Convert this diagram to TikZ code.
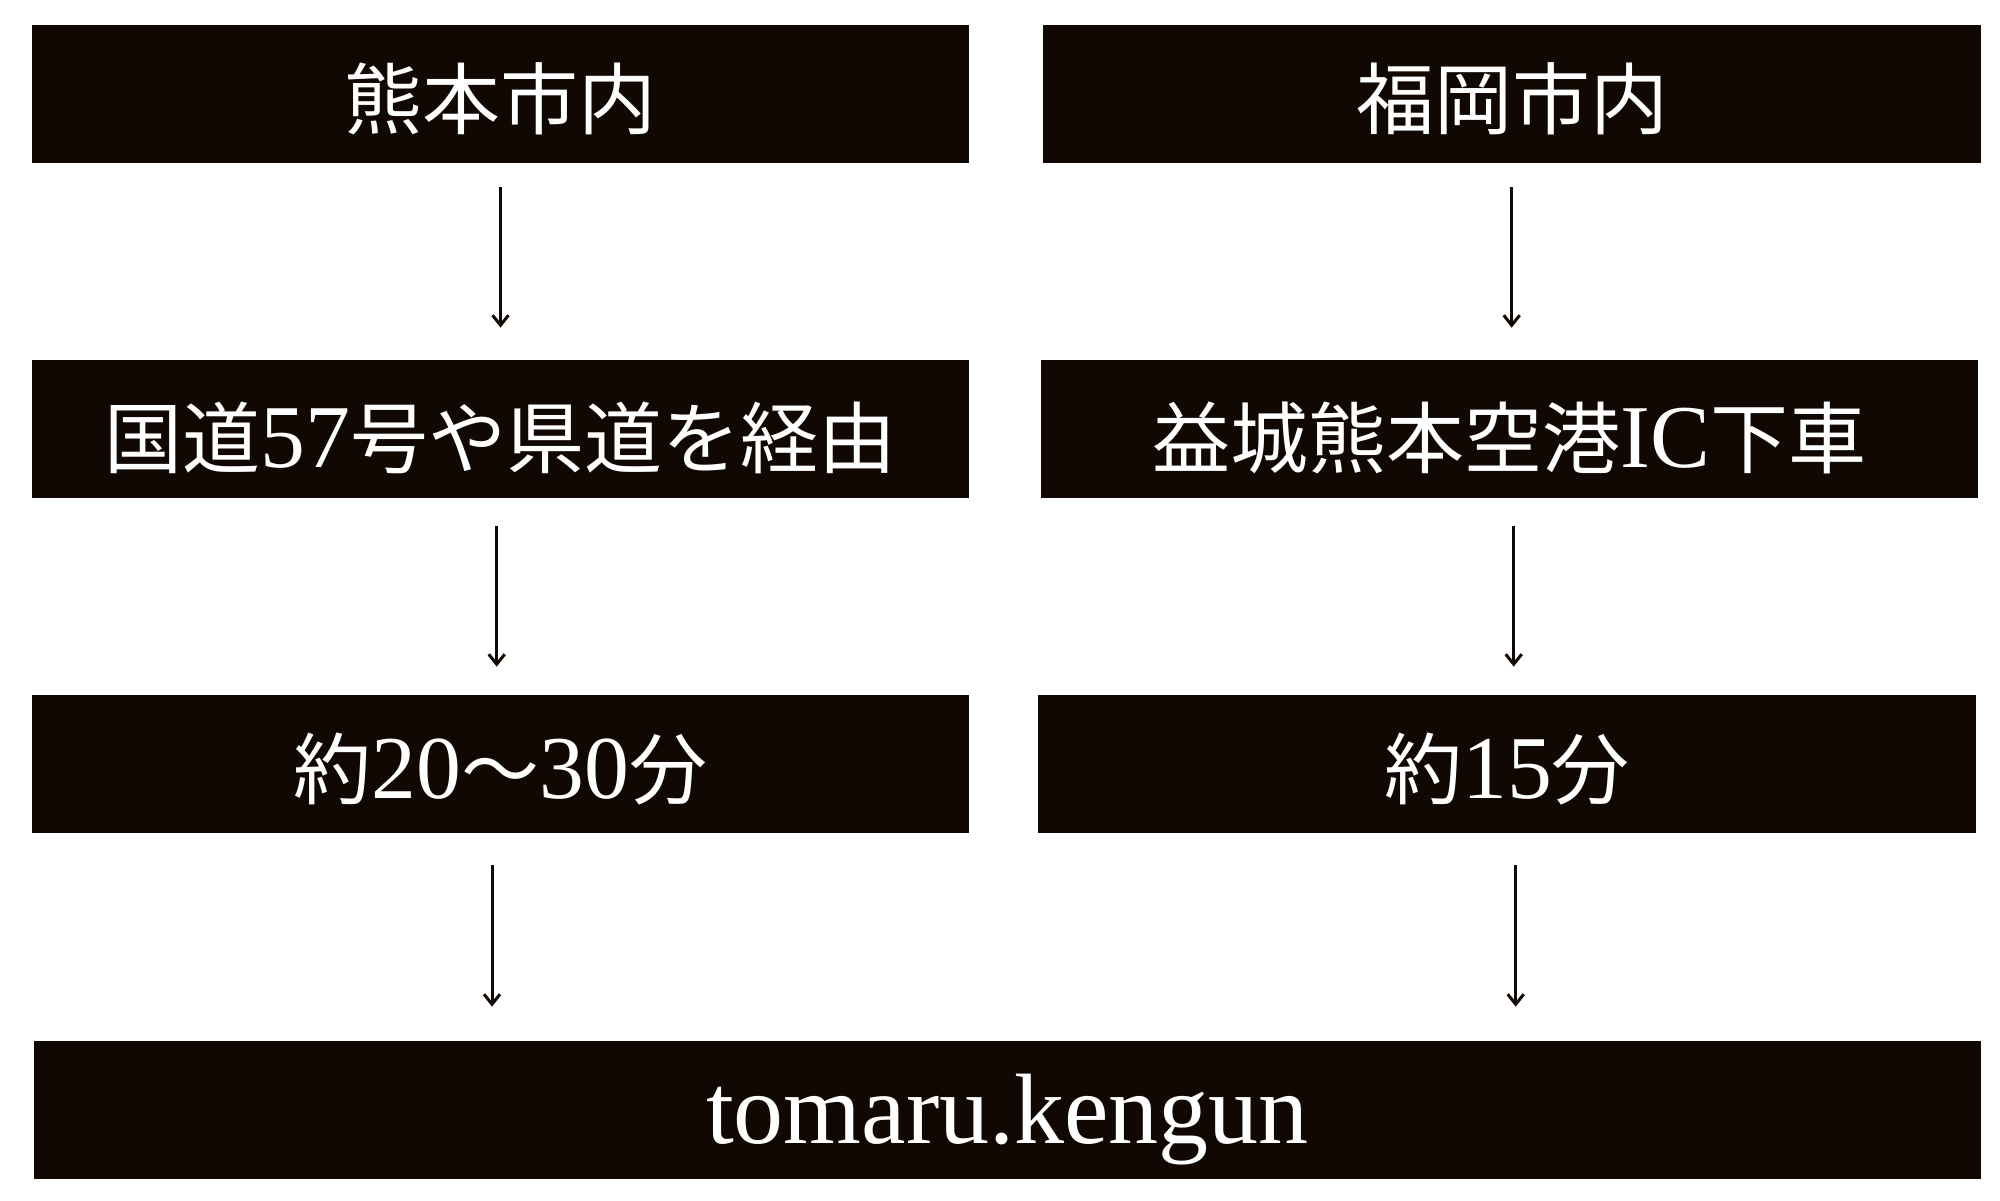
\documentclass[tikz,border=0pt]{standalone}
\usepackage{fontspec}
\setmainfont{Liberation Serif}
\newfontfamily\jp{Noto Sans CJK JP}
\newfontfamily\lat[Scale=1.15]{Liberation Serif}
\usetikzlibrary{arrows.meta}
\definecolor{boxfill}{RGB}{17,8,3}
\begin{document}
\begin{tikzpicture}[x=0.5pt,y=-0.5pt,
  box/.style={fill=boxfill, draw=none, inner sep=0pt, minimum height=69pt,
    text=white, font=\jp\fontsize{39pt}{39pt}\selectfont, text height=34pt, text depth=0pt},
  arr/.style={draw=boxfill, line width=1.5pt, -{Straight Barb[length=5pt,width=8pt]}}]
\fill[white] (0,0) rectangle (2000,1200);
% row 1
\node[box, minimum width=468.5pt] (L1) at (500.5,94) {熊本市内};
\node[box, minimum width=469pt] (R1) at (1512,94) {福岡市内};
% row 2
\node[box, minimum width=468.5pt, text height=38pt] (L2) at (500.5,429) {国道{\lat 57}号や県道を経由};
\node[box, minimum width=468.5pt, text height=38pt] (R2) at (1509.5,429) {益城熊本空港{\lat IC}下車};
% row 3
\node[box, minimum width=468.5pt] (L3) at (500.5,764) {約{\lat 20}〜{\lat 30}分};
\node[box, minimum width=469pt] (R3) at (1507,764) {約{\lat 15}分};
% row 4
\node[box, minimum width=973.5pt, font=\rmfamily\fontsize{50pt}{50pt}\selectfont, text height=33pt] (B) at (1007.5,1110) {tomaru.kengun};
% arrows
\draw[arr] ([yshift=-11.85pt]L1.south) -- ([yshift=16pt]L2.north);
\draw[arr] ([xshift=-0.15pt,yshift=-11.85pt]R1.south) -- ([xshift=1.1pt,yshift=16pt]R2.north);
\draw[arr] ([xshift=-1.9pt,yshift=-14pt]L2.south) -- ([xshift=-1.9pt,yshift=14pt]L3.north);
\draw[arr] ([xshift=2.1pt,yshift=-14pt]R2.south) -- ([xshift=3.35pt,yshift=14pt]R3.north);
\draw[arr] ([xshift=-4.25pt,yshift=-16pt]L3.south) -- ([xshift=-257.75pt,yshift=17pt]B.north);
\draw[arr] ([xshift=4.35pt,yshift=-16pt]R3.south) -- ([xshift=254.1pt,yshift=17pt]B.north);
\end{tikzpicture}
\end{document}
